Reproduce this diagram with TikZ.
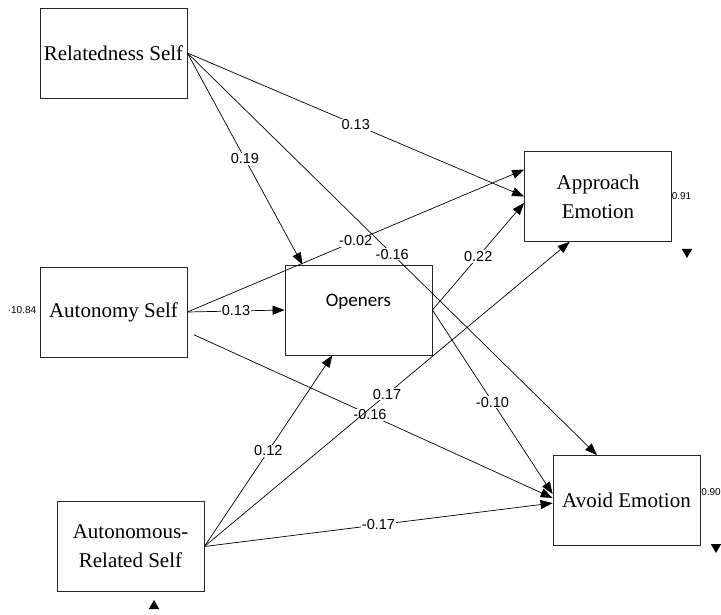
\documentclass[tikz,border=0pt]{standalone}
\usepackage{fontspec}
\setmainfont{Liberation Serif}
\newfontfamily\numfont{Liberation Sans}
\newfontfamily\opfont{Carlito}
\usetikzlibrary{shapes.geometric, arrows.meta}
\tikzstyle{box} = [rectangle, minimum width=147pt, minimum height=90pt, inner sep=0pt, align=center, draw=black!85, line width=0.8pt, font=\fontsize{21}{29}\selectfont]
\tikzstyle{arrow} = [line width=0.7pt, -{Triangle[length=12pt,width=9pt]}]
\tikzstyle{coef} = [fill=white, inner sep=1pt, font=\numfont\fontsize{14.5}{16}\selectfont]
\tikzstyle{resid} = [inner sep=0pt, font=\numfont\fontsize{10}{11}\selectfont]
\tikzstyle{errhead} = [regular polygon, regular polygon sides=3, fill=black, inner sep=0pt, minimum size=12pt]

\begin{document}
\begin{tikzpicture}[x=1pt, y=1pt, node distance=259pt]
\useasboundingbox (0,0) rectangle (721,-615);
\node (relatedness) [box] at (113.5,-53) {Relatedness Self};
\node (autonomy) [box, below of=relatedness] {Autonomy Self};
\node (autoRelated) [box] at (130.5,-546.5) {Autonomous-\\Related Self};
\node (openers) [box, font=\opfont\fontsize{19}{23}\selectfont, text height=13.5pt, text depth=20pt] at (358.5,-310) {Openers};
\node (approach) [box] at (598,-196.5) {Approach\\Emotion};
\node (avoid) [box] at (626.5,-500.5) {Avoid Emotion};

\node (approachRes) [resid] at (681.5,-196) {0.91};
\node (avoidRes) [resid] at (711,-492) {0.90};
\node (autonomyRes) [resid] at (22,-310) {·10.84};
\node (approachErr) [errhead, shape border rotate=180] at (687,-252) {};
\node (avoidErr) [errhead, shape border rotate=180] at (716,-547) {};
\node (autoRelatedErr) [errhead] at (154,-606) {};

\draw [arrow] (relatedness.east) -- node[coef] {0.13} (approach.west);
\draw [arrow] (relatedness.east) -- node[coef] {0.19} (openers.141);
\draw [arrow] (relatedness.east) -- node[coef] {-0.16} (avoid.123);
\draw [arrow] (autonomy.east) -- node[coef] {0.13} (openers.west);
\draw [arrow] (autonomy.east) -- node[coef] {-0.02} (approach.160);
\draw [arrow, shorten <=7pt] (autonomy.345) -- node[coef] {-0.16} (avoid.178);
\draw [arrow] (openers.east) -- node[coef] {0.22} (approach.185);
\draw [arrow] (openers.east) -- node[coef] {-0.10} (avoid.175);
\draw [arrow] (autoRelated.east) -- node[coef] {0.12} (openers.240);
\draw [arrow] (autoRelated.east) -- node[coef] {0.17} (approach.238);
\draw [arrow] (autoRelated.east) -- node[coef] {-0.17} (avoid.182);

\end{tikzpicture}
\end{document}
